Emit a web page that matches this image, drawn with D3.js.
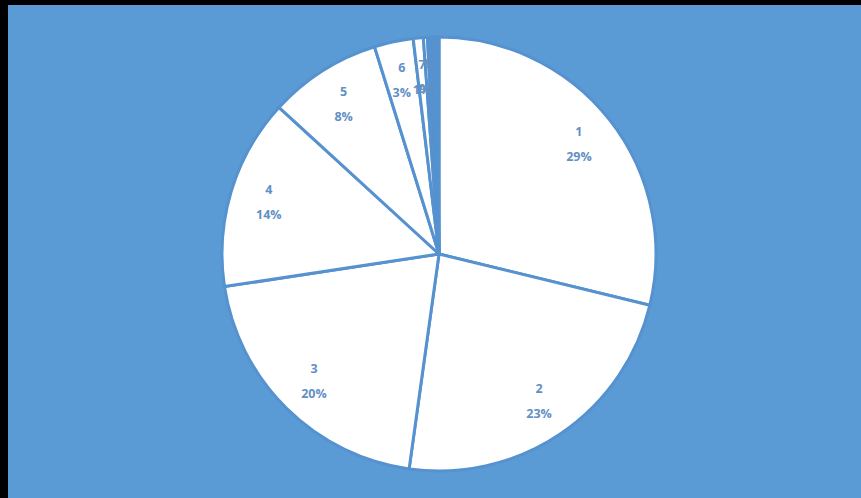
<!DOCTYPE html>
<html>
<head>
<meta charset="utf-8">
<script src="https://cdn.jsdelivr.net/npm/d3@7"></script>
<style>
  html, body { margin: 0; padding: 0; background: #000; }
  svg { display: block; }
</style>
</head>
<body>
<svg id="chart" width="861" height="498"></svg>
<script>
// Category names and their shares (percent of total)
const categories = ["1", "2", "3", "4", "5", "6", "7", "8", "9", "10", "11", "12", "13", "14"];
const values = [28.8, 23.4, 20.4, 14.2, 8.4, 2.9, 0.75, 0.3, 0.2, 0.15, 0.15, 0.12, 0.12, 0.11];
// Only the first categories carry a data label
const labelledCount = 8;

const W = 861, H = 498;
const bg = "#5b9bd5";
const svg = d3.select("#chart");

// Plot area on a black frame (top and left edges)
svg.append("rect").attr("x", 0).attr("y", 0).attr("width", W).attr("height", H).attr("fill", "#000");
svg.append("rect").attr("x", 8).attr("y", 5).attr("width", W - 8).attr("height", H - 5).attr("fill", bg);

const cx = 439, cy = 254, r = 217;
const data = categories.map((c, i) => ({ cat: c, value: values[i], idx: i }));
const total = d3.sum(values);

const pie = d3.pie().sort(null).value(d => d.value).startAngle(0).endAngle(2 * Math.PI);
const arcs = pie(data);

const arc = d3.arc().innerRadius(0).outerRadius(r);
const labelArc = d3.arc().innerRadius(r * 0.82).outerRadius(r * 0.82);

const g = svg.append("g").attr("transform", `translate(${cx},${cy})`);

g.selectAll("path.slice")
  .data(arcs)
  .enter().append("path")
  .attr("class", "slice")
  .attr("d", arc)
  .attr("fill", "#ffffff")
  .attr("stroke", "#5592cf")
  .attr("stroke-width", 3)
  .attr("stroke-linejoin", "round");

const fmt = v => Math.round(v / total * 100) + "%";

const labels = g.selectAll("g.label")
  .data(arcs.filter(a => a.data.idx < labelledCount))
  .enter().append("g")
  .attr("class", "label")
  .attr("transform", d => {
    const [x, y] = labelArc.centroid(d);
    return `translate(${x},${y})`;
  });

labels.append("text")
  .attr("text-anchor", "middle")
  .attr("y", -8)
  .attr("font-family", "'Open Sans', 'Liberation Sans', sans-serif")
  .attr("font-weight", "bold")
  .attr("font-size", 12.5)
  .attr("fill", "#6390c4")
  .text(d => d.data.cat);

labels.append("text")
  .attr("text-anchor", "middle")
  .attr("y", 17)
  .attr("font-family", "'Open Sans', 'Liberation Sans', sans-serif")
  .attr("font-weight", "bold")
  .attr("font-size", 12.5)
  .attr("fill", "#6390c4")
  .text(d => fmt(d.data.value));
</script>
</body>
</html>
